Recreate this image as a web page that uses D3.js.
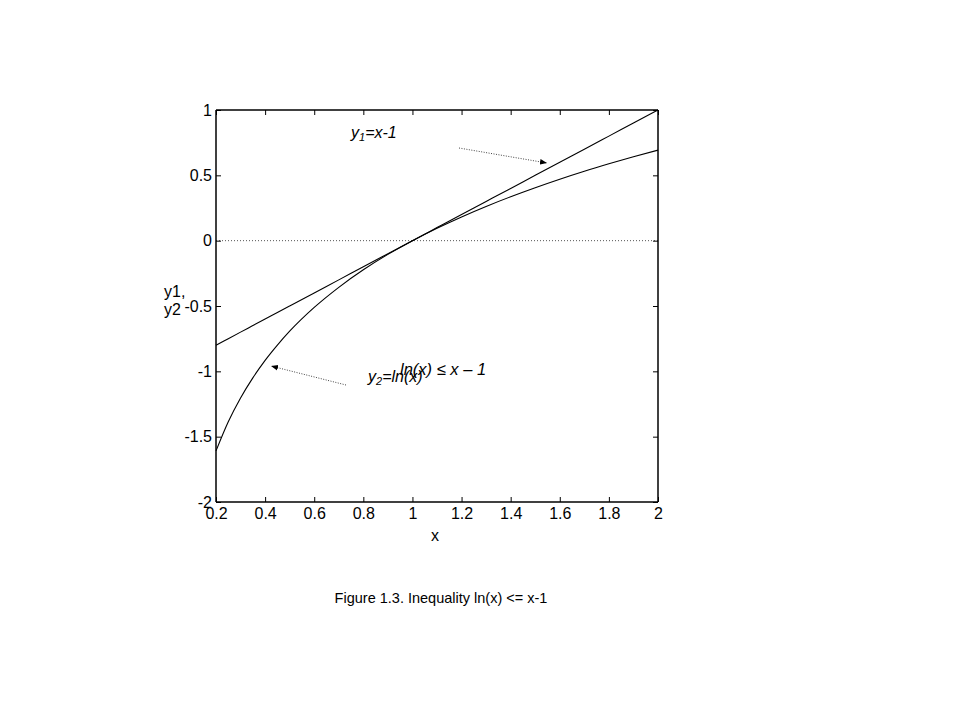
<!DOCTYPE html>
<html><head><meta charset="utf-8">
<script src="https://cdn.jsdelivr.net/npm/d3@7"></script>
<style>body{margin:0;background:#fff}text{font-family:"Liberation Sans",Arial,sans-serif}</style>
</head><body>
<svg id="c" width="960" height="720"></svg>
<script>
const xVals = [0.2,0.25,0.3,0.35,0.4,0.45,0.5,0.6,0.7,0.8,0.9,1.0,1.1,1.2,1.3,1.4,1.5,1.6,1.7,1.8,1.9,2.0];
const y1Vals = [-0.8,-0.75,-0.7,-0.65,-0.6,-0.55,-0.5,-0.4,-0.3,-0.2,-0.1,0,0.1,0.2,0.3,0.4,0.5,0.6,0.7,0.8,0.9,1.0];
const y2Vals = [-1.609,-1.386,-1.204,-1.050,-0.916,-0.799,-0.693,-0.511,-0.357,-0.223,-0.105,0,0.095,0.182,0.262,0.336,0.405,0.470,0.531,0.588,0.642,0.693];
const xTicks = [0.2,0.4,0.6,0.8,1,1.2,1.4,1.6,1.8,2];
const yTicks = [1,0.5,0,-0.5,-1,-1.5,-2];

const svg = d3.select("#c");
const L=216, R=658, T=110, B=502;
const x = d3.scaleLinear().domain([0.2,2]).range([L,R]);
const y = d3.scaleLinear().domain([-2,1]).range([B,T]);

// zero line dotted
svg.append("line").attr("x1",x(0.2)).attr("x2",x(2)).attr("y1",y(0)).attr("y2",y(0))
  .attr("stroke","#555").attr("stroke-width",1).attr("stroke-dasharray","1,2");

const fmt = d => String(d);
const gB = svg.append("g").attr("transform",`translate(0,${B})`)
  .call(d3.axisBottom(x).tickValues(xTicks).tickSize(-5).tickPadding(6).tickFormat(fmt));
const gT = svg.append("g").attr("transform",`translate(0,${T})`)
  .call(d3.axisTop(x).tickValues(xTicks).tickSize(-5).tickFormat(""));
const gL = svg.append("g").attr("transform",`translate(${L},0)`)
  .call(d3.axisLeft(y).tickValues(yTicks).tickSize(-5).tickPadding(4).tickFormat(fmt));
const gR = svg.append("g").attr("transform",`translate(${R},0)`)
  .call(d3.axisRight(y).tickValues(yTicks).tickSize(-5).tickFormat(""));
[gB,gT,gL,gR].forEach(g=>{
  g.select(".domain").attr("stroke","#000").attr("stroke-width",1.5);
  g.selectAll(".tick line").attr("stroke","#000");
  g.selectAll("text").attr("font-size",16).attr("fill","#000")
   .style("font-family","'Liberation Sans',Arial,sans-serif");
});
gB.selectAll(".domain").attr("d",`M${L},0H${R}`);
gT.selectAll(".domain").attr("d",`M${L},0H${R}`);
gL.selectAll(".domain").attr("d",`M0,${B}V${T}`);
gR.selectAll(".domain").attr("d",`M0,${B}V${T}`);

const line = (ys) => d3.line().x((d,i)=>x(xVals[i])).y((d,i)=>y(ys[i])).curve(d3.curveMonotoneX);
svg.append("path").datum(y1Vals).attr("d",line(y1Vals)).attr("fill","none").attr("stroke","#000").attr("stroke-width",1.1);
svg.append("path").datum(y2Vals).attr("d",line(y2Vals)).attr("fill","none").attr("stroke","#000").attr("stroke-width",1.1);

// axis labels
svg.append("text").attr("x",164).attr("y",297).attr("font-size",16).text("y1,");
svg.append("text").attr("x",164).attr("y",315).attr("font-size",16).text("y2");
svg.append("text").attr("x",435).attr("y",541).attr("font-size",16).attr("text-anchor","middle").text("x");

// arrows
const defs = svg.append("defs");
defs.append("marker").attr("id","ah").attr("viewBox","0 0 10 10").attr("refX",10).attr("refY",5)
  .attr("markerWidth",7).attr("markerHeight",7).attr("orient","auto")
  .append("path").attr("d","M0,1L10,5L0,9Z").attr("fill","#000");
svg.append("line").attr("x1",459).attr("y1",148).attr("x2",547).attr("y2",163)
  .attr("stroke","#444").attr("stroke-dasharray","1,1.5").attr("marker-end","url(#ah)");
svg.append("line").attr("x1",346).attr("y1",385).attr("x2",271).attr("y2",366)
  .attr("stroke","#444").attr("stroke-dasharray","1,1.5").attr("marker-end","url(#ah)");

// annotations
const t1 = svg.append("text").attr("x",351).attr("y",138).attr("font-size",16).attr("font-style","italic");
t1.append("tspan").text("y");
t1.append("tspan").attr("font-size",11).attr("dy",3).text("1");
t1.append("tspan").attr("dy",-3).text("=x-1");
const t2 = svg.append("text").attr("x",368).attr("y",382).attr("font-size",16).attr("font-style","italic");
t2.append("tspan").text("y");
t2.append("tspan").attr("font-size",11).attr("dy",3).text("2");
t2.append("tspan").attr("dy",-3).text("=ln(x)");
svg.append("text").attr("x",400).attr("y",375).attr("font-size",16.5).attr("font-style","italic").text("ln(x) \u2264 x \u2013 1");

// caption
svg.append("text").attr("x",441).attr("y",603).attr("font-size",14.5).attr("text-anchor","middle").text("Figure 1.3. Inequality ln(x) <= x-1");
</script>
</body></html>
